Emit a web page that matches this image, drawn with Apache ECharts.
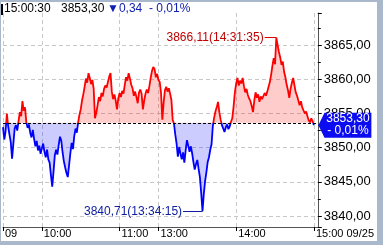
<!DOCTYPE html>
<html><head><meta charset="utf-8">
<script src="https://cdn.jsdelivr.net/npm/echarts@6/dist/echarts.min.js"></script>
<style>
html,body{margin:0;padding:0;width:383px;height:245px;background:#a9b8ca;overflow:hidden;}
#c{position:absolute;left:1px;top:2px;width:376px;height:239px;background:#fff;}
</style></head><body><div id="c"></div>
<script>
// ---- data ----
const prevClose = 3853.64;
const lastTime = '15:00:30';
const maxTime = '14:31:35';
const minTime = '13:34:15';
const tickTimes = ['09:30', '10:00', '11:00', '13:00', '14:00', '15:00'];
const tickText  = ['09', '10:00', '11:00', '13:00', '14:00', '15:00 09/25'];
// one price per minute, 09:30 .. 11:29, 13:00, 13:01 .. 15:00
const prices = [
3853.0,3851.2,3852.4,3855.0,3853.1,3851.9,3850.8,3848.4,3850.6,3852.8,
3853.3,3852.5,3853.9,3855.2,3854.6,3856.8,3855.4,3855.9,3853.7,3852.9,
3853.4,3852.2,3851.5,3852.6,3851.3,3850.2,3851.0,3849.6,3850.3,3849.1,
3849.9,3850.6,3849.4,3848.6,3849.7,3848.3,3847.8,3846.0,3844.3,3846.5,
3848.9,3849.7,3849.0,3850.4,3851.6,3851.0,3849.3,3848.0,3847.1,3846.3,
3845.7,3847.4,3849.2,3850.7,3849.8,3851.7,3852.8,3852.2,3853.7,3854.8,
3855.6,3856.9,3857.8,3858.9,3860.1,3859.5,3860.9,3860.2,3859.3,3859.9,
3858.6,3854.3,3855.1,3856.2,3857.4,3856.8,3858.0,3857.5,3858.6,3859.1,
3858.8,3859.6,3860.4,3860.9,3858.2,3857.1,3857.8,3856.9,3855.6,3857.2,
3858.0,3857.4,3858.3,3857.9,3859.2,3860.3,3859.8,3860.9,3860.1,3859.2,
3858.7,3857.6,3858.2,3857.4,3856.5,3858.1,3858.5,3857.9,3855.6,3856.9,
3857.9,3858.5,3858.0,3859.0,3860.2,3861.2,3861.8,3861.5,3860.3,3860.8,
3859.9,3859.6,3858.0,3854.1,3856.6,3858.4,3858.9,3858.2,3858.7,3857.9,
3857.0,3854.1,3853.5,3851.9,3850.6,3848.7,3850.1,3849.1,3848.3,3849.3,
3847.8,3849.6,3851.1,3850.3,3849.4,3850.2,3849.2,3847.9,3846.8,3847.6,
3848.2,3846.9,3845.7,3843.4,3840.71,3843.2,3845.1,3846.4,3847.9,3848.6,
3849.7,3850.5,3853.2,3854.4,3855.3,3855.9,3856.7,3855.2,3854.1,3853.3,
3852.8,3852.3,3853.0,3853.4,3852.7,3853.1,3853.8,3854.3,3856.0,3858.1,
3859.4,3860.2,3859.1,3859.8,3859.4,3860.2,3859.0,3858.1,3858.6,3857.7,
3857.2,3856.8,3856.1,3855.2,3856.9,3858.1,3857.3,3857.8,3856.7,3857.5,
3857.1,3857.3,3858.0,3857.6,3858.2,3858.1,3859.6,3860.7,3862.0,3863.1,
3862.2,3866.11,3865.0,3864.0,3863.2,3862.1,3862.6,3861.1,3860.3,3859.2,
3858.4,3857.3,3858.6,3859.5,3860.2,3859.1,3858.1,3857.6,3856.9,3856.2,
3856.8,3855.9,3855.8,3855.0,3855.3,3854.6,3854.0,3853.7,3854.3,3853.9,
3853.30
];

// ---- categories (minutes) ----
function hm(m){return String(Math.floor(m/60)).padStart(2,'0')+':'+String(m%60).padStart(2,'0');}
const times = [];
for (let m = 570; m < 690; m++) times.push(hm(m));
times.push('13:00');
for (let m = 781; m <= 903; m++) times.push(hm(m));

const fmt = v => v.toFixed(2).replace('.', ',');
const last = prices[prices.length - 1];
const chg = last - prevClose;
const pct = chg / prevClose * 100;
const pctText = (chg < 0 ? '- ' : '+ ') + fmt(Math.abs(pct)) + '%';
const chgText = (chg < 0 ? '\u25BC' : '\u25B2') + fmt(Math.abs(chg));
const maxV = Math.max(...prices), minV = Math.min(...prices);
const maxI = prices.indexOf(maxV), minI = prices.indexOf(minV);
const showTick = (i, v) => tickTimes.indexOf(v) >= 0;
const FONT = '"Liberation Sans", Arial, sans-serif';
const UP = '#ff0000', DOWN = '#0000ff';

const chart = echarts.init(document.getElementById('c'));
chart.setOption({
  animation: false,
  textStyle: {fontFamily: FONT},
  grid: {left: 2, right: 55, top: 11, bottom: 14},
  graphic: [
    {type: 'rect', x: 0, y: 2, shape: {width: 2, height: 11}, style: {fill: '#000'}},
    {type: 'text', x: 3, y: 7, style: {text: lastTime, fill: '#000', font: '12px ' + FONT, verticalAlign: 'middle'}},
    {type: 'text', x: 60, y: 7, style: {text: fmt(last), fill: '#000', font: '12px ' + FONT, verticalAlign: 'middle'}},
    {type: 'text', x: 106, y: 7, style: {text: chgText, fill: '#1020b0', font: '12px ' + FONT, verticalAlign: 'middle'}},
    {type: 'text', x: 148, y: 7, style: {text: pctText, fill: '#1020b0', font: '12px ' + FONT, verticalAlign: 'middle'}}
  ],
  xAxis: {
    type: 'category', data: times, boundaryGap: false,
    axisLine: {lineStyle: {color: '#555'}},
    axisTick: {interval: showTick, length: 4, lineStyle: {color: '#000'}},
    axisLabel: {interval: showTick, formatter: v => tickText[tickTimes.indexOf(v)] || '',
      align: 'left', margin: 1, fontSize: 11, color: '#000', padding: [0, 0, 0, 2]},
    splitLine: {show: true, interval: showTick, lineStyle: {color: '#c8c8c8', type: [4, 3]}}
  },
  yAxis: {
    type: 'value', position: 'right', min: 3838.4, max: 3869.7,
    axisLine: {show: true, lineStyle: {color: '#555'}},
    axisTick: {show: true, length: 4, lineStyle: {color: '#000'}},
    minorTick: {show: true, splitNumber: 2, length: 3, lineStyle: {color: '#000'}},
    axisLabel: {fontSize: 13, margin: 6, color: '#000', formatter: fmt, showMinLabel: false, showMaxLabel: false},
    splitLine: {show: true, showMinLine: false, showMaxLine: false, lineStyle: {color: '#c8c8c8', type: [4, 3]}}
  },
  series: [{
    type: 'line', data: prices, symbol: 'none', showSymbol: false,
    lineStyle: {width: 1.8, color: UP},
    itemStyle: {color: UP},
    areaStyle: {origin: prevClose, opacity: 0.2, color: UP},
    markLine: {
      silent: true, animation: false, symbol: ['none', 'none'],
      data: [
        {yAxis: prevClose, lineStyle: {color: '#000', type: [3, 2], width: 1}, label: {show: false}},
        [{coord: [maxI, maxV], lineStyle: {color: '#e00000', type: 'solid', width: 1},
          label: {show: true, position: 'end', distance: 1, formatter: fmt(maxV) + '(' + maxTime + ')', color: '#c00000', fontSize: 12}},
         {coord: [maxI - 9, maxV]}],
        [{coord: [minI, minV], lineStyle: {color: '#1020a0', type: 'solid', width: 1},
          label: {show: true, position: 'end', distance: 1, formatter: fmt(minV) + '(' + minTime + ')', color: '#1020a0', fontSize: 12}},
         {coord: [minI - 15, minV]}]
      ]
    },
    markPoint: {
      silent: true, animation: false,
      data: [{
        coord: [prices.length - 1, last],
        symbol: 'path://M0,12L6,0L52,0L52,24L6,24Z', symbolKeepAspect: false,
        symbolSize: [53, 25], symbolOffset: [31, 0],
        itemStyle: {color: '#0c0cf0'},
        label: {show: true, position: 'inside', offset: [3, 0], formatter: fmt(last) + '\n' + pctText,
          color: '#fff', fontSize: 12, lineHeight: 12}
      }]
    }
  }]
});

// split colour at the previous close: red above, blue below
const yBase = chart.convertToPixel({yAxisIndex: 0}, prevClose);
const H = chart.getHeight();
const off = Math.min(1, Math.max(0, yBase / H));
const split = (a, b) => new echarts.graphic.LinearGradient(0, 0, 0, H, [
  {offset: 0, color: a}, {offset: off, color: a}, {offset: off, color: b}, {offset: 1, color: b}
], true);
chart.setOption({series: [{
  lineStyle: {color: split(UP, DOWN)},
  areaStyle: {color: split(UP, DOWN)}
}]});
</script></body></html>
